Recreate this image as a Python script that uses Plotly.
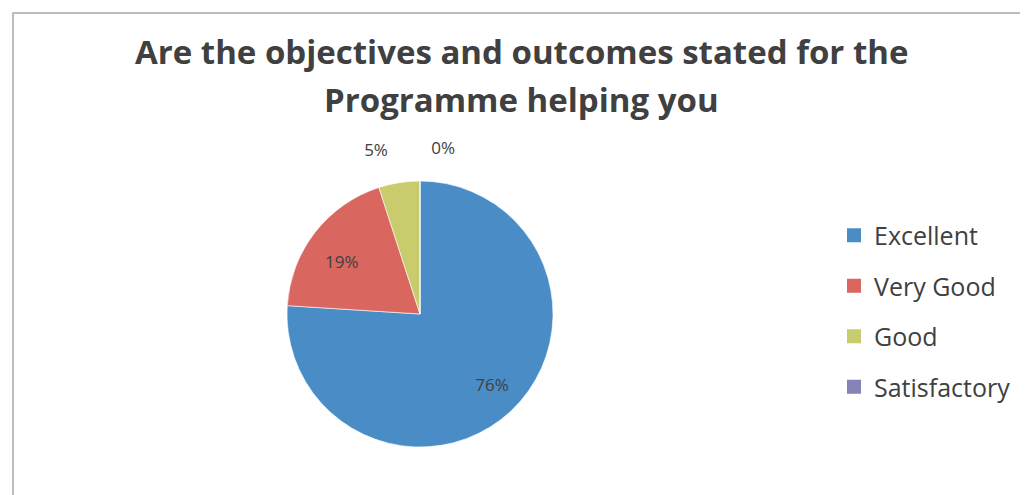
import plotly.graph_objects as go

categories = ["Excellent", "Very Good", "Good", "Satisfactory"]
values = [76, 19, 5, 0]
colors = ["#4a8cc6", "#d9665f", "#c8cc6c", "#8582b8"]
text_positions = ["inside", "inside", "outside", "outside"]
title_line1 = "Are the objectives and outcomes stated for the"
title_line2 = "Programme helping you"

W, H = 1028, 495
text_color = "#404040"
font_family = "'Open Sans', Lato, sans-serif"
nb = "&nbsp;"
pct = "%{percent:.0%}"
# per-slice label layout (padding nudges labels toward their printed spots)
text_templates = [
    nb + "<br>" + nb + "<br>" + nb * 12 + pct,
    pct + nb * 5,
    pct + "<br>" + nb,
    pct + "<br>" + nb,
]

fig = go.Figure()
fig.add_trace(go.Pie(
    labels=categories,
    values=values,
    sort=False,
    direction="clockwise",
    rotation=0,
    marker=dict(colors=colors, line=dict(color="rgba(255,255,255,0.6)", width=1)),
    texttemplate=text_templates,
    textposition=text_positions,
    insidetextorientation="horizontal",
    textfont=dict(size=17, color=text_color, family=font_family),
    domain=dict(x=[279 / W, 545 / W], y=[1 - 439 / H, 1 - 173 / H]),
    showlegend=False,
    hoverinfo="label+percent",
))

for name, col in zip(categories, colors):
    fig.add_trace(go.Scatter(
        x=[None], y=[None], mode="markers", name=name, legendgroup=name,
        marker=dict(symbol="square", size=14, color=col),
    ))

fig.update_layout(
    width=W, height=H,
    margin=dict(l=0, r=0, t=0, b=0),
    paper_bgcolor="white",
    plot_bgcolor="white",
    xaxis=dict(visible=False),
    yaxis=dict(visible=False),
    legend=dict(x=826 / W, xanchor="left", y=1 - 303 / H, yanchor="middle",
                font=dict(size=25, color=text_color, family=font_family),
                tracegroupgap=15, bgcolor="rgba(0,0,0,0)"),
    annotations=[
        dict(text="<b>" + title_line1 + "</b>", xref="paper", yref="paper",
             x=513 / W, y=1 - 43 / H, xanchor="center", yanchor="middle",
             showarrow=False,
             font=dict(size=33, color=text_color, family=font_family)),
        dict(text="<b>" + title_line2 + "</b>", xref="paper", yref="paper",
             x=513 / W, y=1 - 92 / H, xanchor="center", yanchor="middle",
             showarrow=False,
             font=dict(size=33, color=text_color, family=font_family)),
    ],
    shapes=[dict(type="rect", xref="paper", yref="paper",
                 x0=5 / W, x1=1.01, y0=-0.01, y1=1 - 5 / H,
                 line=dict(color="#a8a8a8", width=1.5))],
)

fig.write_html("out.html")
